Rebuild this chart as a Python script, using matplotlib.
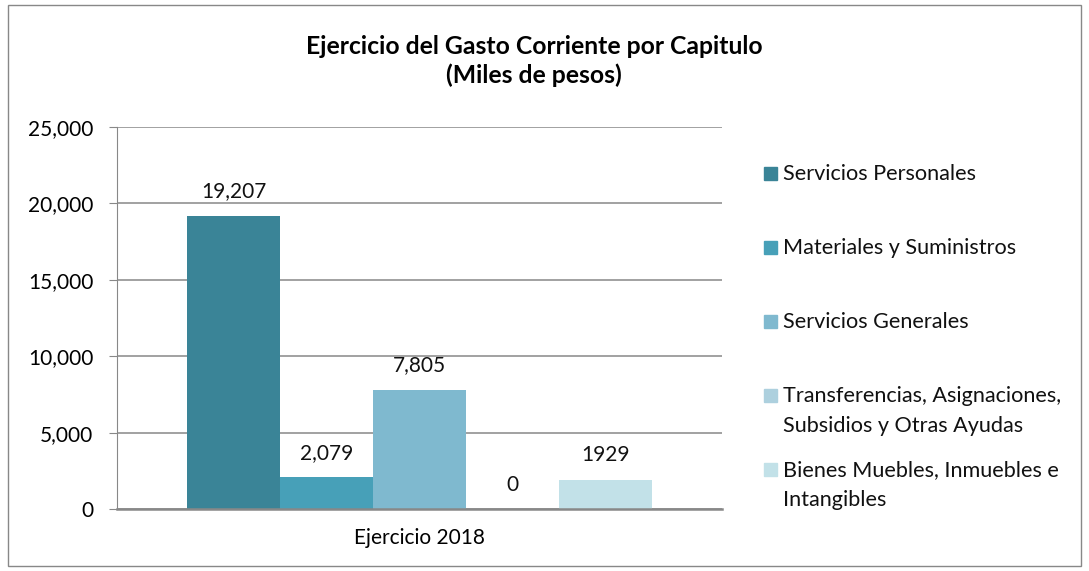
import matplotlib.pyplot as plt
from matplotlib.patches import Rectangle
from matplotlib.ticker import FuncFormatter

plt.rcParams['font.family'] = ['Lato', 'DejaVu Sans']

# Datos del grafico
categoria = 'Ejercicio 2018'
capitulos = ['Servicios Personales', 'Materiales y Suministros', 'Servicios Generales',
             'Transferencias, Asignaciones,\nSubsidios y Otras Ayudas',
             'Bienes Muebles, Inmuebles e\nIntangibles']
valores = [19207, 2079, 7805, 0, 1929]
etiquetas = ['19,207', '2,079', '7,805', '0', '1929']
colores = ['#3A8497', '#47A0B8', '#7FB9CF', '#ADD0DE', '#C2E1E8']

W, H = 1089, 571
fig = plt.figure(figsize=(W / 100, H / 100), dpi=100)
ax = fig.add_axes([117 / W, 1 - 509 / H, (722 - 117) / W, (509 - 127) / H])

# borde exterior del grafico
fig.patches.append(Rectangle((8 / W, 5 / H), 1 - 16 / W, 1 - 10 / H,
                             transform=fig.transFigure, fill=False,
                             edgecolor='#888888', linewidth=1))

fs = 15
ancho = 0.1537
n = len(valores)
for i, (cap, val, et, col) in enumerate(zip(capitulos, valores, etiquetas, colores)):
    x = (i - (n - 1) / 2) * ancho
    ax.bar(x, val, width=ancho, color=col)
    ax.annotate(et, (x, val), xytext=(0, 17.5), textcoords='offset points',
                ha='center', va='center', fontsize=fs, color='#111111')

ax.set_xlim(-0.5, 0.5)
ax.set_ylim(0, 25000)
ax.set_yticks(range(0, 25001, 5000))
ax.yaxis.set_major_formatter(FuncFormatter(lambda v, p: f'{int(v):,}'))
ax.set_xticks([0])
ax.set_xticklabels([categoria])
ax.tick_params(axis='y', labelsize=fs, length=6, color='#888888', pad=11)
ax.tick_params(axis='x', labelsize=fs, length=0, pad=14)
ax.grid(axis='y', color='#9A9A9A', linewidth=1.3)
ax.set_axisbelow(True)
for s in ['top', 'right']:
    ax.spines[s].set_visible(False)
ax.spines['left'].set_color('#888888')
ax.spines['bottom'].set_color('#888888')
ax.spines['bottom'].set_linewidth(1.8)

fig.text(534 / W, 1 - 61 / H, 'Ejercicio del Gasto Corriente por Capitulo\n(Miles de pesos)',
         ha='center', va='center', fontsize=17.8, fontweight='bold', linespacing=1.32)

# leyenda a la derecha
for i, (cap, col) in enumerate(zip(capitulos, colores)):
    y = 173 + 74 * i
    fig.patches.append(Rectangle((764 / W, 1 - (y + 7) / H), 13 / W, 13 / H,
                                 transform=fig.transFigure, color=col))
    fig.text(783 / W, 1 - (y - 9) / H, cap, ha='left', va='top', fontsize=15.6,
             linespacing=1.6, color='#111111')

plt.savefig('out.png', dpi=100)
